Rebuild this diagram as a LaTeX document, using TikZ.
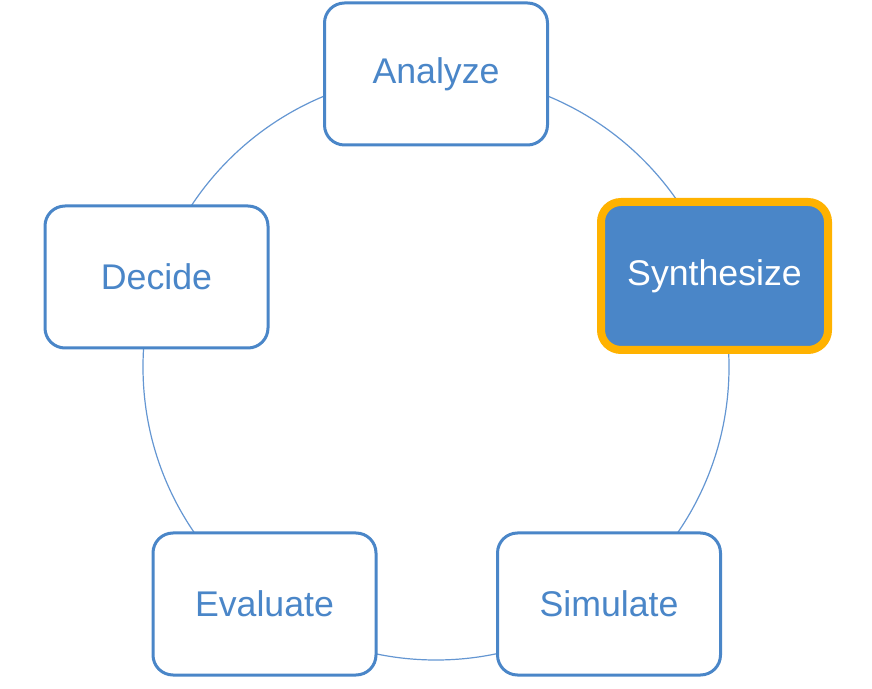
\documentclass[tikz,border=0pt]{standalone}
\usepackage{fontspec}
\setmainfont{Liberation Sans}
\definecolor{boxblue}{RGB}{74,134,200}
\definecolor{ringblue}{RGB}{100,150,210}
\definecolor{hiorange}{RGB}{255,178,0}
\begin{document}
\begin{tikzpicture}[x=1pt,y=1pt,every node/.style={draw=boxblue,line width=3pt,rounded corners=20pt,fill=white,text=boxblue,minimum width=223pt,minimum height=142pt,font=\fontsize{35.7}{40}\selectfont}]
\useasboundingbox (0,0) rectangle (872,688);
% ring behind the boxes
\draw[ringblue,line width=1.2pt] (436,321) circle (293);
\node (ana) at (436,614){Analyze};
\node[draw=hiorange,line width=8pt,fill=boxblue,text=white,minimum width=227pt,minimum height=148pt] (syn) at (714.5,412){Synthesize};
\node (sim) at (609,84){Simulate};
\node (eva) at (264.5,84){Evaluate};
\node (dec) at (156.5,411){Decide};
\end{tikzpicture}
\end{document}
